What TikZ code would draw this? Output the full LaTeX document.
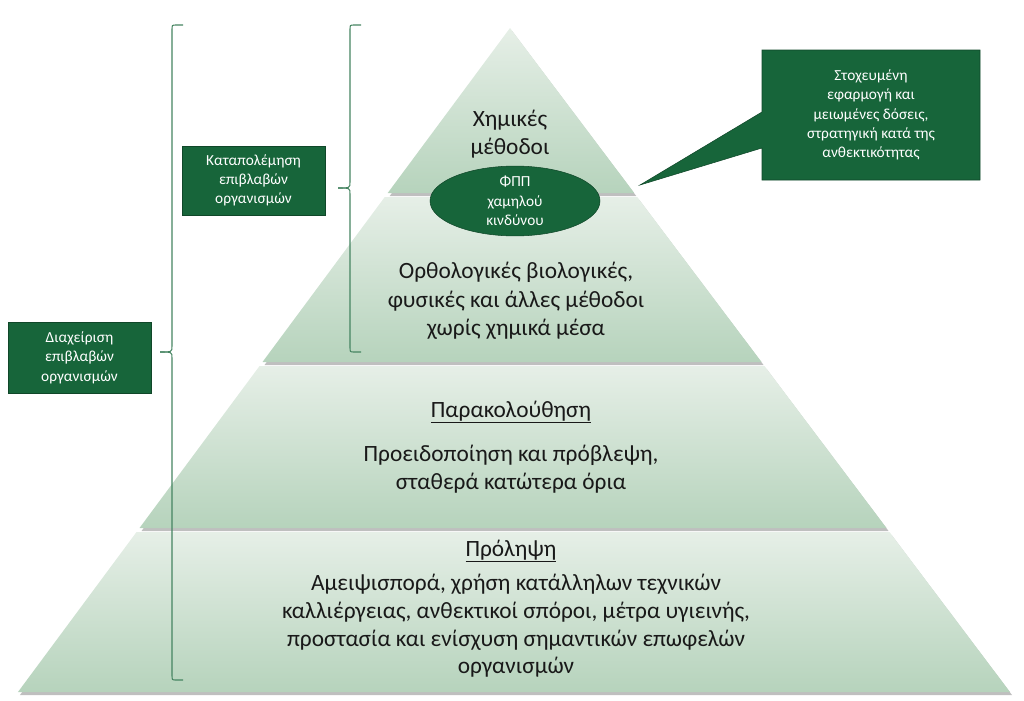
\documentclass[tikz,border=0pt]{standalone}
\usepackage{fontspec}
\setmainfont{Carlito}
\usetikzlibrary{shapes.geometric}
\definecolor{dg}{HTML}{17653A}
\definecolor{tl}{HTML}{E6EFE7}
\definecolor{tb}{HTML}{B6D3BC}
\begin{document}
\begin{tikzpicture}[x=0.75pt,y=-0.75pt,
  tier/.style={top color=tl,bottom color=tb},
  shadowp/.style={fill=black!25},
  big/.style={font=\fontsize{17.5}{21.5}\selectfont,align=center,text=black!90},
  gbox/.style={fill=dg,draw=dg!70!black,text=white,align=center,font=\fontsize{11.5}{14.5}\selectfont,inner sep=3pt},
  brk/.style={draw=dg!80,line width=0.8pt}]
\useasboundingbox (0,0) rectangle (1024,700);
\def\L#1{(510-0.741*(#1-28))}
% shadows
\foreach \a/\b in {28/193,197/362,366/528,532/692}{
  \fill[shadowp] ({510-0.741*(\b-28)+2},\b+3) -- ({510+0.753*(\b-28)+2},\b+3) -- ({510+0.753*(\a-28)+2},\a+3) -- ({510-0.741*(\a-28)+2},\a+3) -- cycle;
}
\foreach \a/\b in {28/193,197/362,366/528,532/692}{
  \shade[tier] ({510-0.741*(\b-28)},\b) -- ({510+0.753*(\b-28)},\b) -- ({510+0.753*(\a-28)},\a) -- ({510-0.741*(\a-28)},\a) -- cycle;
}
\node[big] (t1) at (510,134) {Χημικές\\μέθοδοι};
\node[big] (t2) at (516,301) {Ορθολογικές βιολογικές,\\φυσικές και άλλες μέθοδοι\\χωρίς χημικά μέσα};
\node[big] (t3h) at (511,412) {\underline{Παρακολούθηση}};
\node[big] (t3) at (511,469) {Προειδοποίηση και πρόβλεψη,\\σταθερά κατώτερα όρια};
\node[big] (t4h) at (511,551) {\underline{Πρόληψη}};
\node[big,font=\fontsize{17.5}{20.8}\selectfont] (t4) at (516,626) {Αμειψισπορά, χρήση κατάλληλων τεχνικών\\καλλιέργειας, ανθεκτικοί σπόροι, μέτρα υγιεινής,\\προστασία και ενίσχυση σημαντικών επωφελών\\οργανισμών};
% ellipse
\node[ellipse,fill=dg,draw=dg!70!black,minimum width=170pt*0.75,minimum height=60pt*0.75,inner sep=0pt,text=white,align=center,font=\fontsize{11.5}{14.5}\selectfont] (el) at (515,201) {ΦΠΠ\\χαμηλού\\κινδύνου};
% callout
\filldraw[fill=dg,draw=dg!70!black] (762,50) -- (980,50) -- (980,180) -- (762,180) -- (762,148) -- (640,185) -- (762,112) -- cycle;
\node[text=white,align=center,font=\fontsize{11.5}{14.5}\selectfont] (co) at (871,115) {Στοχευμένη\\εφαρμογή και\\μειωμένες δόσεις,\\στρατηγική κατά της\\ανθεκτικότητας};
% brackets
\coordinate (b1t) at (183,25); \coordinate (b1b) at (183,680); \coordinate (b1m) at (160,352);
\draw[brk] (b1t) -- (176,25) .. controls (172,25) .. (172,30) -- (172,346) .. controls (172,352) .. (b1m);
\draw[brk] (b1b) -- (176,680) .. controls (172,680) .. (172,675) -- (172,358) .. controls (172,352) .. (b1m);
\coordinate (b2t) at (361,25); \coordinate (b2b) at (361,352); \coordinate (b2m) at (338,188);
\draw[brk] (b2t) -- (354,25) .. controls (350,25) .. (350,30) -- (350,182) .. controls (350,188) .. (b2m);
\draw[brk] (b2b) -- (354,352) .. controls (350,352) .. (350,347) -- (350,194) .. controls (350,188) .. (b2m);
\node[gbox,minimum width=143*0.75pt,minimum height=69*0.75pt] (kb) at (253.5,180.5) {Καταπολέμηση\\επιβλαβών\\οργανισμών};
\node[gbox,minimum width=143*0.75pt,minimum height=71*0.75pt] (db) at (79.5,357.5) {Διαχείριση\\επιβλαβών\\οργανισμών};
\end{tikzpicture}
\end{document}
